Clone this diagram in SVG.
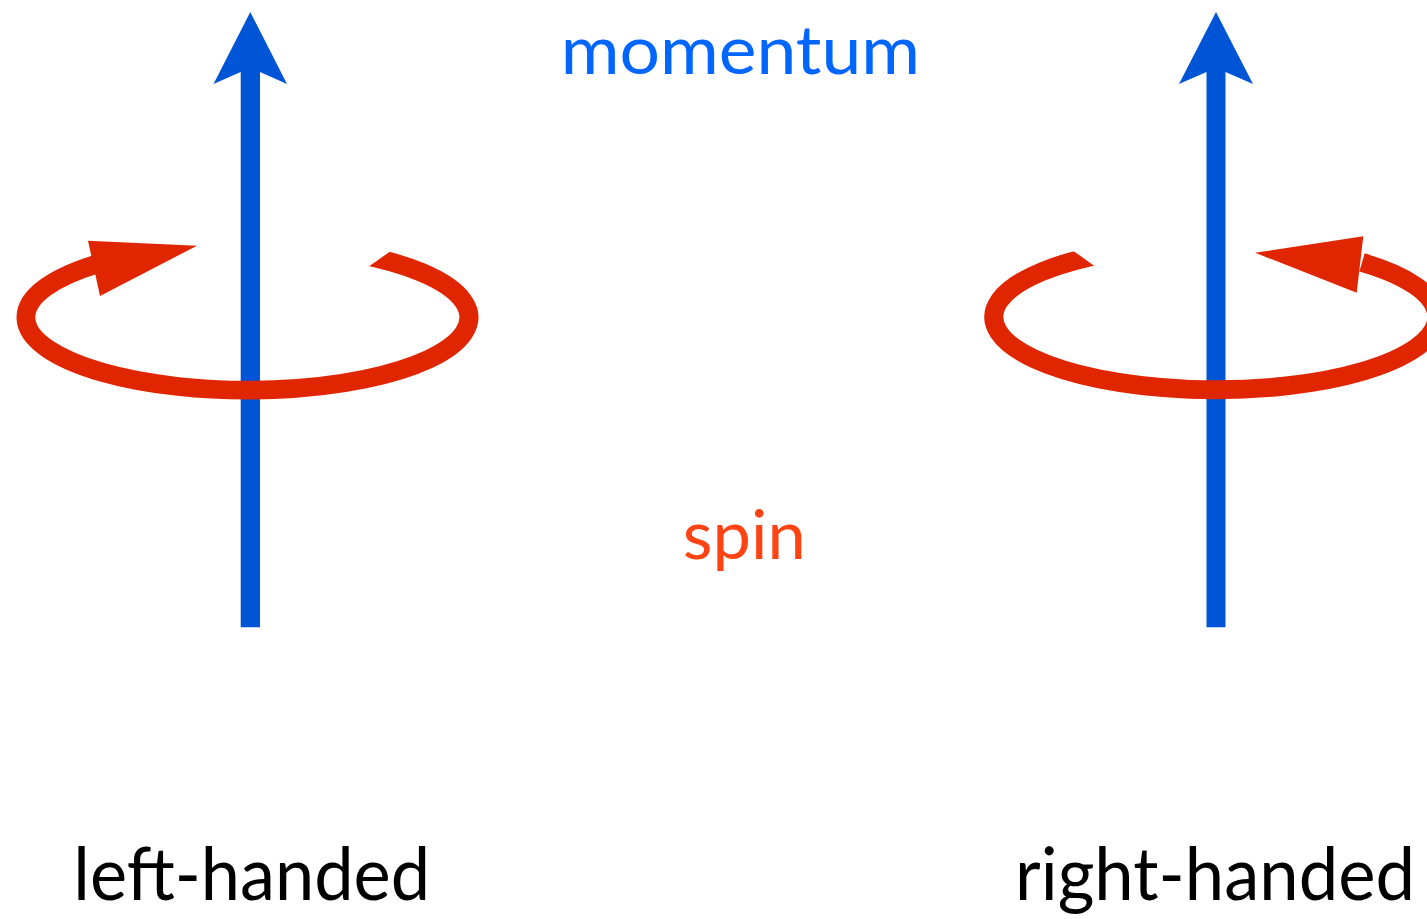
<svg xmlns="http://www.w3.org/2000/svg" width="1427" height="919" viewBox="0 0 1427 919">
<style>
.mom{fill:#0055D6}
.ring{fill:none;stroke:#E02600;stroke-width:18.8}
.head{fill:#E02600}
.lbl{font-family:Lato,"Open Sans","DejaVu Sans",sans-serif}
</style>
<defs>
<clipPath id="cutL"><path clip-rule="evenodd" d="M0 0H1427V919H0Z M398 246 L358 274 L330 274 L330 215 L412 215 Z"/></clipPath>
<clipPath id="cutR"><path clip-rule="evenodd" d="M0 0H1427V919H0Z M1065 245 L1105 273.4 L1135 274 L1135 215 L1053 215 Z"/></clipPath>
</defs>
<rect width="1427" height="919" fill="#fff"/>
<g id="left">
<polygon class="mom" points="250.3,12 287,84 260,72 260,627.3 240.7,627.3 240.7,72 213.5,84"/>
<path class="ring" clip-path="url(#cutL)" d="M355 253.7 A221.5 72.8 0 1 1 97 263.9"/>
<polygon class="head" points="197,245.7 88,240.7 100,296"/>
</g>
<g id="right">
<polygon class="mom" points="1216,12 1253,84 1225.5,72 1225.5,627.3 1206.5,627.3 1206.5,72 1179,84"/>
<path class="ring" clip-path="url(#cutR)" d="M1110 252.9 A221.5 72.8 0 1 0 1362 262.4"/>
<polygon class="head" points="1255,252.7 1363.3,236.3 1356.7,292.7"/>
</g>
<g id="labels">
<text class="lbl" x="560.7" y="74" font-size="67" fill="#0066FF" textLength="359.3" lengthAdjust="spacingAndGlyphs">momentum</text>
<text class="lbl" x="682.7" y="559.3" font-size="67" fill="#FF4313" textLength="123" lengthAdjust="spacingAndGlyphs">spin</text>
<text class="lbl" x="73.3" y="900" font-size="73" fill="#000" textLength="356.7" lengthAdjust="spacingAndGlyphs">left-handed</text>
<text class="lbl" x="1015" y="900" font-size="73" fill="#000" textLength="400" lengthAdjust="spacingAndGlyphs">right-handed</text>
</g>
</svg>
